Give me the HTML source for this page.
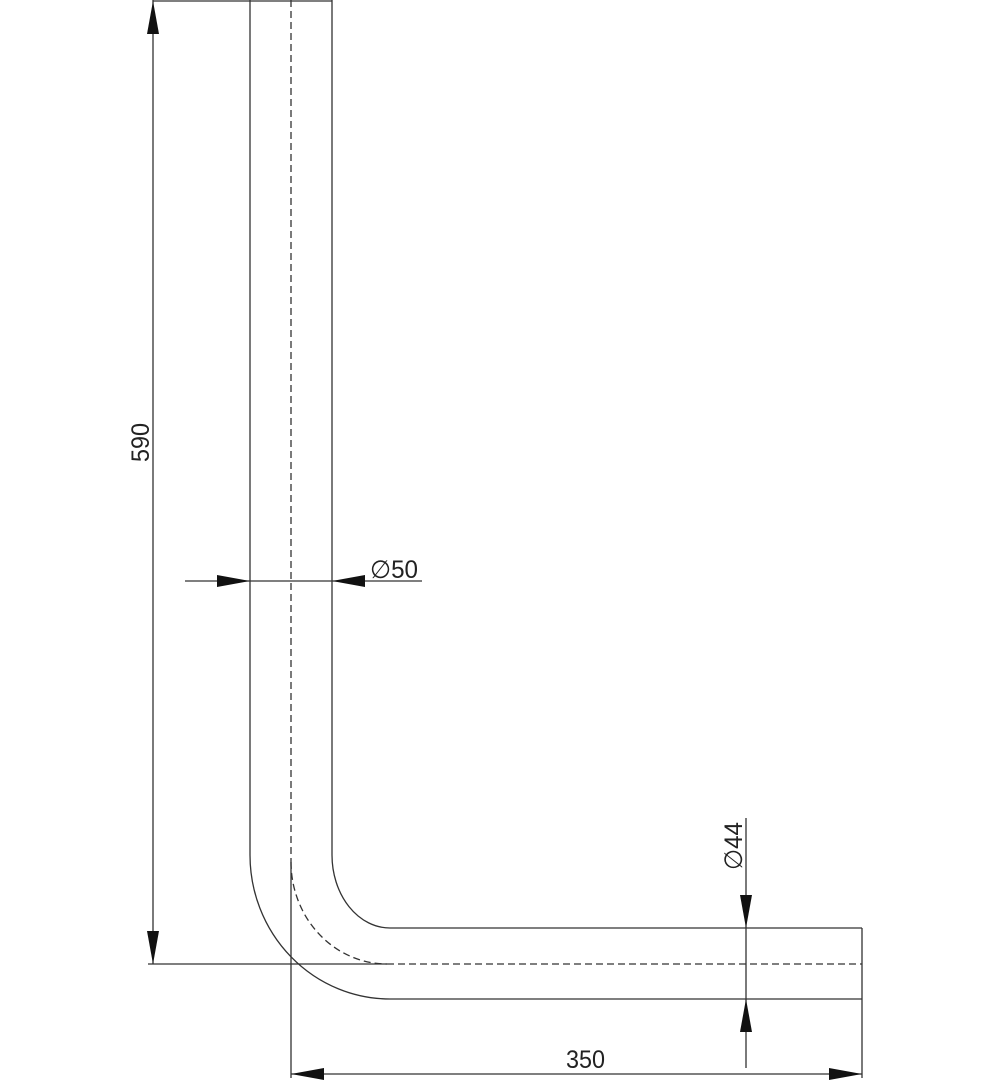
<!DOCTYPE html>
<html><head><meta charset="utf-8"><style>html,body{margin:0;padding:0;background:#fff}svg{display:block}</style></head>
<body>
<svg width="990" height="1080" viewBox="0 0 990 1080" xmlns="http://www.w3.org/2000/svg">
<g fill="none" stroke="#333" stroke-width="1.3">
<!-- pipe outlines -->
<line x1="250" y1="0" x2="250" y2="855"/>
<line x1="332" y1="0" x2="332" y2="855"/>
<line x1="153" y1="1" x2="332" y2="1"/>
<path d="M250 855 A140 144 0 0 0 390 999 L862 999"/>
<path d="M332 855 A58 73 0 0 0 390 928 L862 928"/>
<line x1="862" y1="928" x2="862" y2="1078"/>
<!-- centerlines -->
<line x1="291" y1="0" x2="291" y2="862" stroke-dasharray="7,4"/>
<path d="M291 862 A96 102 0 0 0 387 964" stroke-dasharray="7,4"/>
<line x1="387" y1="964" x2="862" y2="964" stroke-dasharray="7,4"/>
<!-- extension / dim lines -->
<line x1="148" y1="964" x2="387" y2="964"/>
<line x1="291" y1="862" x2="291" y2="1078"/>
<line x1="153" y1="0" x2="153" y2="964"/>
<line x1="185" y1="581" x2="422" y2="581"/>
<line x1="746" y1="818" x2="746" y2="1068"/>
<line x1="291" y1="1074" x2="862" y2="1074"/>
</g>
<g fill="#111">
<polygon points="153,1 147,34 159,34"/>
<polygon points="153,964 147,931 159,931"/>
<polygon points="250,581 217,575 217,587"/>
<polygon points="332,581 365,575 365,587"/>
<polygon points="746,928 740,895 752,895"/>
<polygon points="746,999 740,1032 752,1032"/>
<polygon points="291,1074 324,1068 324,1080"/>
<polygon points="862,1074 829,1068 829,1080"/>
</g>
<g font-family="Liberation Sans, sans-serif" font-size="25" fill="#222">
<text x="566" y="1068" textLength="39" lengthAdjust="spacingAndGlyphs">350</text>
<text transform="translate(149,462) rotate(-90)" textLength="39" lengthAdjust="spacingAndGlyphs">590</text>
<text x="370" y="578" textLength="48" lengthAdjust="spacingAndGlyphs">∅50</text>
<text transform="translate(742,870) rotate(-90)" textLength="48" lengthAdjust="spacingAndGlyphs">∅44</text>
</g>
</svg>
</body></html>
